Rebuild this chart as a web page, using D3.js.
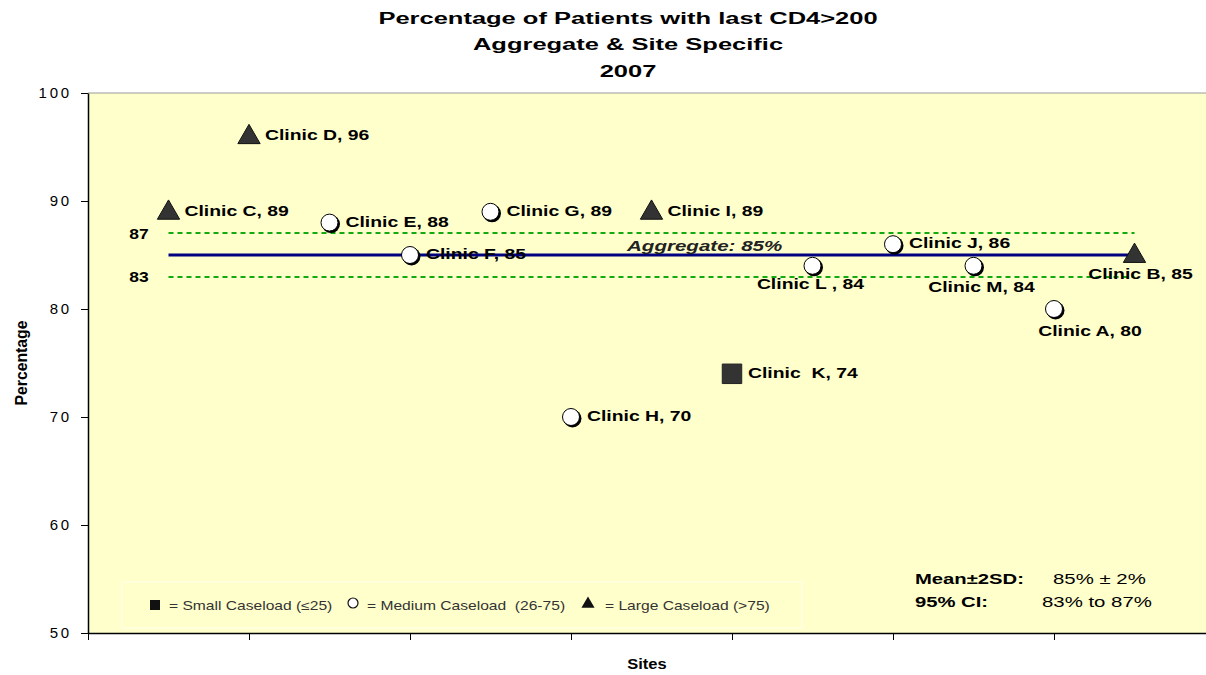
<!DOCTYPE html>
<html><head><meta charset="utf-8">
<script src="https://cdn.jsdelivr.net/npm/d3@7"></script>
<style>
body{margin:0;background:#fff}
svg{display:block}
text{font-family:"Liberation Sans",Arial,Helvetica,sans-serif;white-space:pre}
</style>
</head><body>
<svg id="c" width="1206" height="675"></svg>
<script>
// ---------- data ----------
const titleLines = ["Percentage of Patients with last CD4>200", "Aggregate & Site Specific", "2007"];
const clinics = ["Clinic C", "Clinic D", "Clinic E", "Clinic F", "Clinic G", "Clinic H", "Clinic I", "Clinic  K", "Clinic L ", "Clinic J", "Clinic M", "Clinic A", "Clinic B"];
const sitePositions = [0.5, 1, 1.5, 2, 2.5, 3, 3.5, 4, 4.5, 5, 5.5, 6, 6.5];
const percentages = [89, 96, 88, 85, 89, 70, 89, 74, 84, 86, 84, 80, 85];
const caseload = ["large", "large", "medium", "medium", "medium", "medium", "large", "small", "medium", "medium", "medium", "medium", "large"];
const yTicks = [50, 60, 70, 80, 90, 100];
const xTicks = [0, 1, 2, 3, 4, 5, 6, 7];
const aggregate = 85;
const ciLow = 83;
const ciHigh = 87;
const legendSymbols = ["small", "medium", "large"];
const legendLabels = ["= Small Caseload (\u226425)", "= Medium Caseload  (26-75)", "= Large Caseload (>75)"];
const statsLabels = ["Mean\u00b12SD:", "95% CI:"];
const statsValues = ["85% \u00b1 2%", "83% to 87%"];

// label placement (style only)
const labelPlace = ["r","r","r","r","r","r","r","r",
  {dx:-2, dy:18}, "r", {dx:8, dy:21}, {dx:36, dy:21}, {dx:6, dy:18}];

// ---------- layout ----------
const SX = 1.25; // horizontal glyph stretch of the original
const W = 1206, H = 675;
const L = 88, T = 93, B = 633;
const svg = d3.select("#c");
const x = d3.scaleLinear().domain([0, 7]).range([L, L + 7 * 161]);
const y = d3.scaleLinear().domain([50, 100]).range([B, T]);

function stext(g, px, py, str, o) {
  o = o || {};
  return g.append("text")
    .attr("transform", `translate(${px},${py}) scale(${o.sx || SX},1)`)
    .attr("text-anchor", o.anchor || "start")
    .attr("font-size", o.size || 15)
    .attr("font-weight", o.weight || "normal")
    .attr("font-style", o.style || "normal")
    .attr("fill", o.fill || "#000")
    .text(str);
}

// plot background
svg.append("rect").attr("x", L).attr("y", T).attr("width", W - L).attr("height", B - T)
  .attr("fill", "#ffffcc");
svg.append("line").attr("x1", L).attr("x2", W).attr("y1", T).attr("y2", T)
  .attr("stroke", "#999").attr("stroke-width", 1);

// title
titleLines.forEach((t, i) => {
  stext(svg, 628, 23.5 + i * 26.5, t, {anchor: "middle", size: 17, weight: "bold", sx: 1.5});
});

// y axis
const yAxis = svg.append("g").attr("transform", `translate(${L},0)`)
  .call(d3.axisLeft(y).tickValues(yTicks).tickSize(7).tickPadding(9).tickSizeOuter(0));
yAxis.select(".domain").attr("stroke", "#000").attr("stroke-width", 1.5);
yAxis.selectAll(".tick line").attr("stroke", "#000");
yAxis.selectAll(".tick text").attr("font-size", 15).attr("fill", "#000")
  .attr("font-family", "'Liberation Sans',Arial,sans-serif")
  .attr("letter-spacing", 2.8);

// x axis
const xAxis = svg.append("g").attr("transform", `translate(0,${B})`)
  .call(d3.axisBottom(x).tickValues(xTicks).tickSize(7).tickFormat("").tickSizeOuter(0));
xAxis.select(".domain").attr("stroke", "#000").attr("stroke-width", 1.5);
xAxis.selectAll(".tick line").attr("stroke", "#000");

// axis titles
svg.append("text").attr("transform", "translate(27,363) rotate(-90) scale(1.05,1.15)")
  .attr("text-anchor", "middle").attr("font-size", 15).attr("font-weight", "bold").text("Percentage");
stext(svg, 647, 669, "Sites", {anchor: "middle", size: 15, weight: "bold", sx: 1.1});

// reference lines
const x0 = x(d3.min(sitePositions)), x1 = x(d3.max(sitePositions));
[ciHigh, ciLow].forEach(v => {
  const yy = Math.round(y(v));
  svg.append("line").attr("x1", x0).attr("x2", x1).attr("y1", yy).attr("y2", yy)
    .attr("stroke", "#11aa11").attr("stroke-width", 2).attr("stroke-dasharray", "5,4");
  stext(svg, 139, y(v) + 5.5, String(v), {anchor: "middle", size: 14, weight: "bold"});
});
svg.append("line").attr("x1", x0).attr("x2", x1).attr("y1", y(aggregate)).attr("y2", y(aggregate))
  .attr("stroke", "#000080").attr("stroke-width", 3);
stext(svg, 627, y(aggregate) - 4, `Aggregate: ${aggregate}%`, {size: 15, weight: "bold", style: "italic", fill: "#222", sx: 1.37});

// markers
function drawMarker(g, type, cx, cy) {
  if (type === "large") {
    g.append("path").attr("transform", `translate(${cx},${cy + 1})`)
      .attr("d", d3.symbol().type(d3.symbolTriangle).size(215)())
      .attr("fill", "#333").attr("stroke", "#111").attr("stroke-width", 1);
  } else if (type === "small") {
    g.append("path").attr("transform", `translate(${cx},${cy})`)
      .attr("d", d3.symbol().type(d3.symbolSquare).size(380)())
      .attr("fill", "#333").attr("stroke", "#222").attr("stroke-width", 1);
  } else {
    g.append("circle").attr("cx", cx + 1.5).attr("cy", cy + 1.5).attr("r", 9).attr("fill", "#000");
    g.append("circle").attr("cx", cx).attr("cy", cy).attr("r", 8.5)
      .attr("fill", "#fff").attr("stroke", "#000").attr("stroke-width", 1);
  }
}
const pts = svg.append("g");
clinics.forEach((c, i) => {
  drawMarker(pts, caseload[i], x(sitePositions[i]), y(percentages[i]));
});
clinics.forEach((c, i) => {
  const cx = x(sitePositions[i]), cy = y(percentages[i]);
  const lbl = `${c}, ${percentages[i]}`;
  const p = labelPlace[i];
  if (p === "r") {
    stext(pts, cx + 16, cy + 4, lbl, {size: 15.5, weight: "bold"});
  } else {
    stext(pts, cx + p.dx, cy + p.dy + 5.5, lbl, {size: 15.5, weight: "bold", anchor: "middle"});
  }
});

// legend
const lg = svg.append("g");
lg.append("rect").attr("x", 122).attr("y", 582).attr("width", 680).attr("height", 46)
  .attr("fill", "none").attr("stroke", "#fffff0").attr("stroke-width", 1);
const legendX = [155, 353, 588];
legendSymbols.forEach((s, i) => {
  if (s === "small") {
    lg.append("rect").attr("x", legendX[i] - 5).attr("y", 600).attr("width", 10).attr("height", 10).attr("fill", "#111");
  } else if (s === "medium") {
    lg.append("circle").attr("cx", legendX[i]).attr("cy", 603).attr("r", 5).attr("fill", "#fff").attr("stroke", "#111").attr("stroke-width", 1.2);
  } else {
    lg.append("path").attr("transform", `translate(${legendX[i]},604)`)
      .attr("d", d3.symbol().type(d3.symbolTriangle).size(75)()).attr("fill", "#111");
  }
  stext(lg, legendX[i] + (s === "large" ? 17 : 14), 609.5, legendLabels[i], {size: 12.5, sx: 1.25, fill: "#333"});
});

// stats box
statsLabels.forEach((s, i) => {
  stext(svg, 915, 584 + i * 23, s, {size: 15, weight: "bold", sx: 1.35});
});
const statsX = [1053, 1042];
statsValues.forEach((s, i) => {
  stext(svg, statsX[i], 584 + i * 23, s, {size: 15, sx: 1.36});
});
</script>
</body></html>
